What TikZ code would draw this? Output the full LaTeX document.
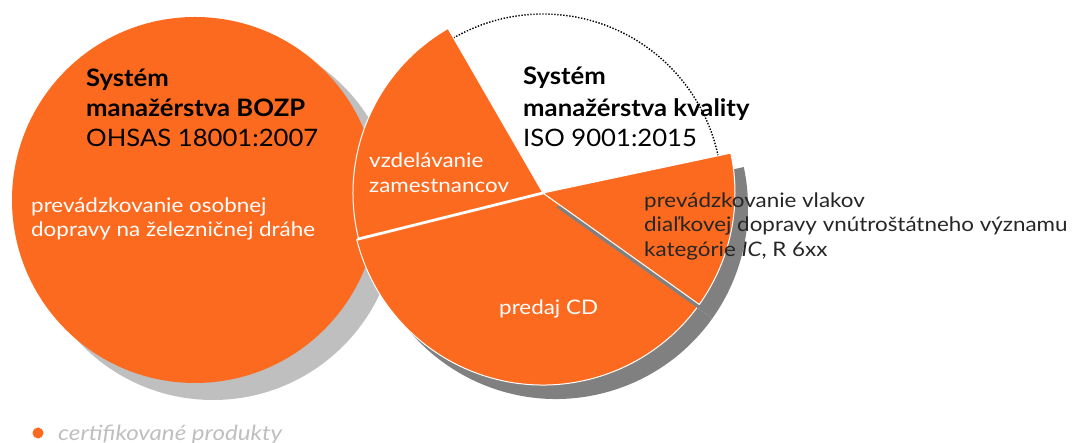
\documentclass[tikz,border=0pt]{standalone}
\usepackage{fontspec}
\setmainfont{Lato}
\newfontfamily\headfont{Lato}[FakeStretch=1.07]
\newfontfamily\bodyfont{Lato}[FakeStretch=1.12]
\newfontfamily\notefont{Lato}[FakeStretch=1.15]
\definecolor{cdorange}{RGB}{252,106,32}
\definecolor{shadowlight}{RGB}{191,191,191}
\definecolor{shadowdark}{RGB}{128,128,128}

\begin{document}
\begin{tikzpicture}[x=1pt,y=1pt,
	headline/.style={anchor=base west,inner sep=0pt,font=\headfont\fontsize{24}{30}\selectfont\bfseries},
	normline/.style={anchor=base west,inner sep=0pt,font=\headfont\fontsize{24}{30}\selectfont},
	whiteline/.style={anchor=base west,inner sep=0pt,font=\bodyfont\fontsize{20}{24}\selectfont,text=white},
	darkline/.style={anchor=base west,inner sep=0pt,font=\bodyfont\fontsize{20}{24}\selectfont,text=black!85},
	sector/.style={fill=cdorange,draw=white,line width=1pt,line join=round}]
	\useasboundingbox (0,0) rectangle (1072,443);
	% left circle (BOZP)
	\fill[shadowlight] (213,227) circle (184);
	\fill[cdorange] (195,243) circle (183);
	% right pie (kvalita)
	\coordinate (c) at (543,250);
	\draw[line width=1.4pt,dash pattern=on 1.4pt off 1.6pt] (c) ++(120:179) arc (120:12:179);
	\fill[shadowdark] ([shift={(13,-14)}]c) -- ++(194:192) arc (194:324.5:192) -- cycle;
	\draw[sector] (c) -- ++(194:192) arc (194:324.5:192) -- cycle;
	\draw[sector] (c) -- ++(120:190) arc (120:194:190) -- cycle;
	\fill[shadowdark] ([shift={(13,-14)}]c) -- ++(-35.5:192) arc (-35.5:12:192) -- cycle;
	\draw[sector] (c) -- ++(-35.5:192) arc (-35.5:12:192) -- cycle;
	\draw[white,line width=2.8pt] (c) -- ++(194:191);
	% texts
	\node[headline] (bozp1) at (86,356) {Systém};
	\node[headline] (bozp2) at (86,326) {manažérstva BOZP};
	\node[normline] (bozp3) at (86,296) {OHSAS 18001:2007};
	\node[whiteline] (osob1) at (31,230) {prevádzkovanie osobnej};
	\node[whiteline] (osob2) at (31,206) {dopravy na železničnej dráhe};
	\node[headline] (kval1) at (523,358) {Systém};
	\node[headline] (kval2) at (523,326) {manažérstva kvality};
	\node[normline] (kval3) at (523,296) {ISO 9001:2015};
	\node[whiteline] (vzdel1) at (369,275) {vzdelávanie};
	\node[whiteline] (vzdel2) at (369,250) {zamestnancov};
	\node[whiteline] (predaj) at (499,128) {predaj CD};
	\node[darkline] (vlak1) at (644,235) {prevádzkovanie vlakov};
	\node[darkline] (vlak2) at (644,211) {diaľkovej dopravy vnútroštátneho významu};
	\node[darkline] (vlak3) at (644,186) {kategórie \textit{IC}, R 6xx};
	% legend
	\fill[cdorange] (38,10) circle (5.5);
	\node[anchor=base west,inner sep=0pt,font=\notefont\fontsize{21}{24}\selectfont\itshape,text=shadowlight] (legenda) at (58,2) {certifikované produkty};
\end{tikzpicture}
\end{document}
